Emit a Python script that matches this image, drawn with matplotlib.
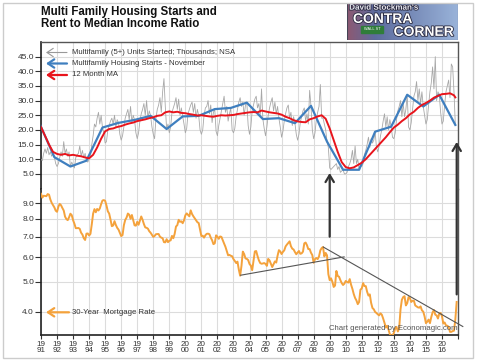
import numpy as np
import matplotlib
matplotlib.use("Agg")
import matplotlib.pyplot as plt
from matplotlib.patches import Rectangle
import matplotlib.patheffects as pe

plt.rcParams['font.family'] = ['Liberation Sans', 'DejaVu Sans']

# ---------------- data ----------------
# Multifamily (5+) units started, thousands, NSA, monthly Jan 1991 .. Nov 2016
mf_starts = [
    10.0, 9.5, 12.0, 13.5, 12.0, 14.0, 11.5, 12.5, 11.0, 12.0, 10.7, 8.5,     # 1991
    7.5, 8.5, 10.5, 12.5, 11.0, 16.0, 12.0, 13.5, 11.0, 12.5, 7.5, 9.0,       # 1992
    8.0, 7.0, 10.5, 11.5, 12.0, 14.5, 11.0, 13.0, 10.5, 12.0, 9.5, 9.0,       # 1993
    10.0, 11.0, 15.0, 18.0, 22.0, 21.0, 24.0, 26.0, 22.0, 25.0, 20.8, 19.0,   # 1994
    15.5, 16.0, 20.0, 21.5, 23.0, 24.0, 22.0, 25.0, 21.0, 23.5, 22.4, 18.5,   # 1995
    16.5, 18.0, 21.0, 24.0, 25.5, 27.0, 23.5, 28.0, 22.5, 25.0, 23.4, 19.0,   # 1996
    17.0, 19.0, 23.0, 25.5, 27.0, 29.0, 25.0, 30.0, 24.0, 26.5, 24.8, 21.0,   # 1997
    18.5, 17.0, 24.0, 27.0, 28.5, 31.0, 26.0, 33.0, 37.5, 28.0, 20.3, 22.0,   # 1998
    19.0, 21.0, 26.0, 27.5, 29.0, 31.0, 27.0, 30.5, 25.0, 27.5, 24.6, 22.0,   # 1999
    19.0, 20.5, 25.5, 27.0, 28.5, 29.5, 26.0, 29.0, 24.0, 27.0, 24.8, 20.0,   # 2000
    18.5, 20.0, 25.0, 27.5, 28.0, 30.0, 25.5, 28.5, 22.5, 26.0, 27.1, 19.5,   # 2001
    18.0, 21.5, 24.0, 26.5, 29.0, 31.5, 26.0, 28.0, 23.0, 25.5, 27.5, 20.0,   # 2002
    19.0, 20.5, 24.5, 27.0, 29.5, 31.0, 28.0, 29.5, 25.0, 28.5, 29.3, 21.5,   # 2003
    18.5, 21.0, 26.5, 28.5, 30.5, 31.5, 27.5, 29.0, 24.5, 34.0, 23.7, 20.5,   # 2004
    18.0, 21.0, 25.0, 27.5, 29.5, 31.0, 26.5, 29.5, 25.5, 28.0, 24.0, 21.0,   # 2005
    17.5, 19.5, 23.0, 25.5, 27.5, 28.5, 24.0, 26.0, 21.5, 24.5, 22.3, 18.5,   # 2006
    16.5, 18.5, 22.5, 24.5, 26.5, 27.5, 23.0, 25.5, 22.0, 33.5, 28.2, 20.0,   # 2007
    17.0, 19.0, 23.5, 26.0, 28.0, 35.5, 24.0, 24.0, 22.0, 20.0, 16.0, 14.0,   # 2008
    7.0, 6.5, 7.0, 7.5, 8.0, 8.5, 6.5, 7.5, 5.5, 6.0, 6.4, 5.0,               # 2009
    5.0, 5.5, 7.5, 8.5, 10.0, 13.0, 8.5, 14.5, 8.5, 10.0, 6.4, 8.0,           # 2010
    7.5, 8.5, 11.5, 13.0, 15.0, 17.5, 14.0, 17.0, 15.5, 16.5, 19.4, 14.0,     # 2011
    12.5, 14.5, 18.0, 20.0, 23.0, 25.5, 21.0, 24.5, 20.0, 23.5, 21.1, 17.5,   # 2012
    17.0, 19.0, 23.5, 26.5, 28.0, 30.0, 24.5, 29.0, 24.5, 27.0, 32.0, 21.0,   # 2013
    20.0, 22.5, 27.0, 31.5, 33.0, 36.5, 30.0, 34.0, 29.0, 33.0, 28.0, 25.0,   # 2014
    22.0, 23.5, 28.5, 33.0, 36.0, 41.5, 34.0, 45.0, 30.0, 33.0, 32.0, 26.0,   # 2015
    22.0, 23.0, 28.5, 33.0, 35.0, 37.0, 31.0, 42.5, 41.5, 33.0, 21.7,         # 2016
]

# November values, Nov 1990 .. Nov 2016
nov_years = list(range(1990, 2017))
nov_starts = [23.1, 10.7, 7.5, 9.5, 20.8, 22.4, 23.4, 24.8, 20.3, 24.6,
              24.8, 27.1, 27.5, 29.3, 23.7, 24.0, 22.3, 28.2, 16.0, 6.4,
              6.4, 19.4, 21.1, 32.0, 28.0, 32.0, 21.7]

# 12 month moving average, quarterly readings (Jan, Apr, Jul, Oct) 1991..2016, then Nov 2016
ma_12 = [
    21.0, 18.0, 15.0, 12.5,   11.8, 11.5, 11.8, 11.3,   11.5, 11.2, 11.0, 10.6,
    10.3, 11.5, 14.0, 17.0,   19.5, 20.3, 20.5, 21.0,   21.3, 21.8, 22.2, 22.5,
    23.0, 23.3, 23.6, 24.0,   24.3, 24.8, 25.0, 26.0,   26.3, 26.0, 26.2, 25.8,
    25.7, 25.4, 25.2, 24.9,   25.0, 24.8, 24.6, 24.5,   24.8, 25.0, 24.9, 25.0,
    25.1, 25.4, 25.6, 25.8,   26.0, 26.1, 26.0, 26.6,   26.3, 26.0, 25.8, 25.6,
    25.2, 24.5, 24.0, 23.3,   22.9, 22.7, 22.6, 23.6,   24.0, 24.6, 25.0, 23.8,
    20.5, 16.5, 12.5, 9.0,    7.3, 6.9, 7.2, 8.0,       8.8, 10.0, 11.5, 13.0,
    14.5, 16.0, 17.5, 19.2,   20.8, 21.8, 23.0, 24.0,   25.3, 26.2, 27.5, 28.5,
    29.2, 30.0, 31.0, 31.6,   32.2, 32.3, 32.5, 31.8,   31.1,
]

# 30-year mortgage rate, monthly Jan 1991 .. Dec 2016
mortgage = [
    9.64, 9.37, 9.50, 9.49, 9.47, 9.62, 9.58, 9.24, 9.01, 8.86, 8.71, 8.50,   # 1991
    8.43, 8.76, 8.94, 8.85, 8.67, 8.51, 8.13, 7.98, 7.92, 8.09, 8.31, 8.22,   # 1992
    7.92, 7.71, 7.46, 7.46, 7.47, 7.42, 7.21, 7.11, 6.92, 6.83, 7.16, 7.17,   # 1993
    7.06, 7.15, 7.68, 8.32, 8.60, 8.40, 8.61, 8.51, 8.64, 8.93, 9.17, 9.20,   # 1994
    9.15, 8.83, 8.46, 8.32, 7.96, 7.57, 7.61, 7.86, 7.64, 7.48, 7.38, 7.20,   # 1995
    7.03, 7.08, 7.62, 7.93, 8.07, 8.32, 8.25, 8.00, 8.23, 7.92, 7.62, 7.60,   # 1996
    7.82, 7.65, 7.90, 8.14, 7.94, 7.69, 7.50, 7.48, 7.43, 7.29, 7.21, 7.10,   # 1997
    6.99, 7.04, 7.13, 7.14, 7.14, 7.00, 6.95, 6.92, 6.72, 6.71, 6.87, 6.72,   # 1998
    6.79, 6.81, 7.04, 6.92, 7.15, 7.55, 7.63, 7.94, 7.82, 7.85, 7.74, 7.91,   # 1999
    8.21, 8.33, 8.24, 8.15, 8.52, 8.29, 8.15, 8.03, 7.91, 7.80, 7.75, 7.38,   # 2000
    7.03, 7.05, 6.95, 7.08, 7.15, 7.16, 7.13, 6.95, 6.82, 6.62, 6.66, 7.07,   # 2001
    7.00, 6.89, 7.01, 6.99, 6.81, 6.65, 6.49, 6.29, 6.09, 6.11, 6.07, 6.05,   # 2002
    5.92, 5.84, 5.75, 5.81, 5.48, 5.23, 5.63, 6.26, 6.15, 5.95, 5.93, 5.88,   # 2003
    5.71, 5.64, 5.45, 5.83, 6.27, 6.29, 6.06, 5.87, 5.75, 5.72, 5.73, 5.75,   # 2004
    5.71, 5.63, 5.93, 5.86, 5.72, 5.58, 5.70, 5.82, 5.77, 6.07, 6.33, 6.27,   # 2005
    6.15, 6.25, 6.32, 6.51, 6.60, 6.68, 6.76, 6.52, 6.40, 6.36, 6.24, 6.14,   # 2006
    6.22, 6.29, 6.16, 6.18, 6.26, 6.66, 6.70, 6.57, 6.38, 6.38, 6.21, 6.10,   # 2007
    5.76, 5.92, 5.97, 5.92, 6.04, 6.32, 6.43, 6.48, 6.04, 6.20, 6.09, 5.29,   # 2008
    5.06, 5.13, 5.00, 4.81, 4.86, 5.42, 5.22, 5.19, 5.06, 4.95, 4.88, 4.93,   # 2009
    5.03, 4.99, 4.97, 5.10, 4.89, 4.74, 4.56, 4.43, 4.35, 4.23, 4.30, 4.71,   # 2010
    4.76, 4.95, 4.84, 4.84, 4.64, 4.51, 4.55, 4.27, 4.11, 4.07, 3.99, 3.96,   # 2011
    3.92, 3.89, 3.95, 3.91, 3.80, 3.68, 3.55, 3.60, 3.50, 3.38, 3.35, 3.35,   # 2012
    3.41, 3.53, 3.57, 3.45, 3.54, 4.07, 4.37, 4.46, 4.49, 4.19, 4.26, 4.46,   # 2013
    4.43, 4.30, 4.34, 4.34, 4.19, 4.16, 4.13, 4.12, 4.16, 4.04, 4.00, 3.86,   # 2014
    3.67, 3.71, 3.77, 3.67, 3.84, 3.98, 4.05, 3.91, 3.89, 3.80, 3.94, 3.96,   # 2015
    3.87, 3.66, 3.69, 3.61, 3.60, 3.57, 3.44, 3.44, 3.46, 3.47, 3.77, 4.30,   # 2016
]

top_ticks = [5, 10, 15, 20, 25, 30, 35, 40, 45]
bottom_ticks = [4, 5, 6, 7, 8, 9]
tick_years = list(range(1991, 2018))

# drawn trend lines on the mortgage rate (year, rate)
trend_up = [(2003.45, 5.25), (2009.9, 6.02)]
trend_down = [(2008.6, 6.48), (2017.3, 3.58)]
# arrows: (year, tail rate on lower panel, tip value on upper panel)
arrows = [(2009.0, 7.0, 5.3), (2016.92, 4.55, 15.9)]

# ---------------- colours ----------------
GRAY = '#a8a8a8'
BLUE = '#3f7fbf'
RED = '#e8141c'
ORANGE = '#f4a23c'
GRID = '#dcdcdc'
DARK = '#333333'

# ---------------- layout ----------------
W, H = 480, 363
fig = plt.figure(figsize=(W / 100, H / 100), dpi=100)
fig.patch.set_facecolor('white')


def fx(px):
    return px / W


def fy(py):
    return 1 - py / H


L, R, T1, B1, B2 = 41, 458, 42, 188.5, 335
ax1 = fig.add_axes([fx(L), fy(B1), fx(R) - fx(L), fy(T1) - fy(B1)])
ax2 = fig.add_axes([fx(L), fy(B2), fx(R) - fx(L), fy(B1) - fy(B2)], sharex=ax1)
ax2.patch.set_alpha(0)

# x positions derived from month index
x_month = 1991 + np.arange(len(mf_starts)) / 12.0
x_mort = 1991 + np.arange(len(mortgage)) / 12.0
x_ma = list(1991 + np.arange(len(ma_12) - 1) * 0.25) + [2016 + 10 / 12.0]
x_nov = [y + 10 / 12.0 for y in nov_years]

ax1.plot(x_month, mf_starts, color=GRAY, lw=0.6, zorder=3)
ax1.plot(x_nov, nov_starts, color=BLUE, lw=1.6, zorder=4)
ax1.plot(x_ma, ma_12, color=RED, lw=1.4, zorder=5)
ax2.plot(x_mort, mortgage, color=ORANGE, lw=1.4, zorder=3)

ax1.set_xlim(1991, 2017)
ax1.set_ylim(0, 50)
ax2.set_yscale('log')
ax2.set_ylim(3.36, 10.03)

for ax in (ax1, ax2):
    ax.set_axisbelow(True)
    ax.grid(True, color=GRID, lw=0.8)
    ax.tick_params(axis='y', length=4, width=0.8, color=DARK, pad=1,
                   labelsize=6, labelcolor=DARK)

ax1.set_yticks(top_ticks)
ax1.set_yticklabels([f"{v:.1f}" for v in top_ticks])
ax2.set_yticks(bottom_ticks)
ax2.set_yticklabels([f"{v:.1f}" for v in bottom_ticks])
ax2.yaxis.set_minor_locator(matplotlib.ticker.NullLocator())

ax1.set_xticks(tick_years)
ax1.tick_params(axis='x', bottom=False, labelbottom=False)
ax2.set_xticks(tick_years)
ax2.set_xticklabels([f"{str(y)[:2]}\n{str(y)[2:]}" if y < 2017 else '' for y in tick_years])
ax2.tick_params(axis='x', length=3, width=0.8, color=DARK, pad=1,
                labelsize=5.8, labelcolor=DARK)
for lab in ax2.get_xticklabels():
    lab.set_linespacing(0.95)

ax1.spines['bottom'].set_visible(False)
ax2.spines['top'].set_visible(False)
for ax in (ax1, ax2):
    ax.spines['left'].set_color('#222222')
    ax.spines['left'].set_linewidth(1.2)
    ax.spines['right'].set_color('#555555')
    ax.spines['right'].set_linewidth(1.0)
ax1.spines['top'].set_color('#555555')
ax1.spines['top'].set_linewidth(1.0)
ax2.spines['bottom'].set_color('#222222')
ax2.spines['bottom'].set_linewidth(1.2)

# trend lines
ax2.plot([p[0] for p in trend_up], [p[1] for p in trend_up], color='#555555', lw=0.8, zorder=6)
ax2.plot([p[0] for p in trend_down], [p[1] for p in trend_down], color='#555555', lw=0.8,
         zorder=6, clip_on=False)

# vertical arrows spanning both panels
for xa, tail, tip in arrows:
    ax2.annotate('', xy=(xa, tip), xycoords=ax1.transData,
                 xytext=(xa, tail), textcoords=ax2.transData,
                 arrowprops=dict(arrowstyle='->,head_length=0.5,head_width=0.3',
                                 color=DARK, lw=1.6, shrinkA=0, shrinkB=0),
                 annotation_clip=False, zorder=7)

# legend entries (arrows + text)
def legend_entry(y, color, lw, text, x0=67, x1=46):
    fig.add_artist(matplotlib.patches.FancyArrowPatch(
        (fx(x0), fy(y)), (fx(x1), fy(y)), transform=fig.transFigure,
        arrowstyle='->,head_length=0.45,head_width=0.3', color=color, lw=lw,
        mutation_scale=10, shrinkA=0, shrinkB=0))
    fig.text(fx(72.5), fy(y), text, fontsize=5.6, color=DARK, va='center', ha='left')

legend_entry(52.5, '#999999', 0.8, "Multifamily (5+) Units Started; Thousands; NSA")
legend_entry(63.5, BLUE, 1.6, "Multifamily Housing Starts - November")
legend_entry(75, RED, 1.6, "12 Month MA")
legend_entry(312.3, ORANGE, 1.6, "30-Year  Mortgage Rate", x0=69)

fig.text(fx(329), fy(328.7), "Chart generated by Economagic.com", fontsize=5.6,
         color='#555555', va='center', ha='left')

# title
fig.text(fx(41), fy(5.5), "Multi Family Housing Starts and\nRent to Median Income Ratio",
         fontsize=8.3, fontweight='bold', color='#111111', va='top', ha='left',
         linespacing=1.08)

# outer light frame
fig.add_artist(Rectangle((fx(3), fy(358)), fx(473) - fx(3), fy(3) - fy(358),
                         transform=fig.transFigure, fill=False, ec='#cccccc', lw=1))

# logo
lax = fig.add_axes([fx(347), fy(40), fx(458) - fx(347), fy(3) - fy(40)])
lax.set_axis_off()
grad = np.zeros((2, 60, 3))
c_left = np.array([0.55, 0.35, 0.45])
c_mid = np.array([0.36, 0.42, 0.62])
c_right = np.array([0.60, 0.70, 0.85])
for i in range(60):
    t = i / 59
    if t < 0.25:
        c = c_left + (c_mid - c_left) * (t / 0.25)
    else:
        c = c_mid + (c_right - c_mid) * ((t - 0.25) / 0.75)
    grad[:, i, :] = c
lax.imshow(grad, extent=(0, 1, 0, 1), aspect='auto')
lax.set_xlim(0, 1)
lax.set_ylim(0, 1)
stroke = [pe.withStroke(linewidth=1.2, foreground='#2a2a40')]
lax.text(0.02, 0.86, "David Stockman's", fontsize=5.8, fontweight='bold', color='#e8e8f0',
         ha='left', va='center', path_effects=stroke)
lax.text(0.32, 0.57, "CONTRA", fontsize=10, fontweight='bold', color='white',
         ha='center', va='center', path_effects=stroke)
lax.text(0.69, 0.22, "CORNER", fontsize=10, fontweight='bold', color='white',
         ha='center', va='center', path_effects=stroke)
lax.add_patch(Rectangle((0.13, 0.2), 0.19, 0.17, color='#2f7d3a'))
lax.text(0.225, 0.285, "WALL ST", fontsize=2.8, color='white', ha='center', va='center')
lax.add_patch(Rectangle((0, 0), 1, 1, fill=False, ec='#444455', lw=0.8))

fig.savefig('out.png', dpi=100, facecolor='white')
